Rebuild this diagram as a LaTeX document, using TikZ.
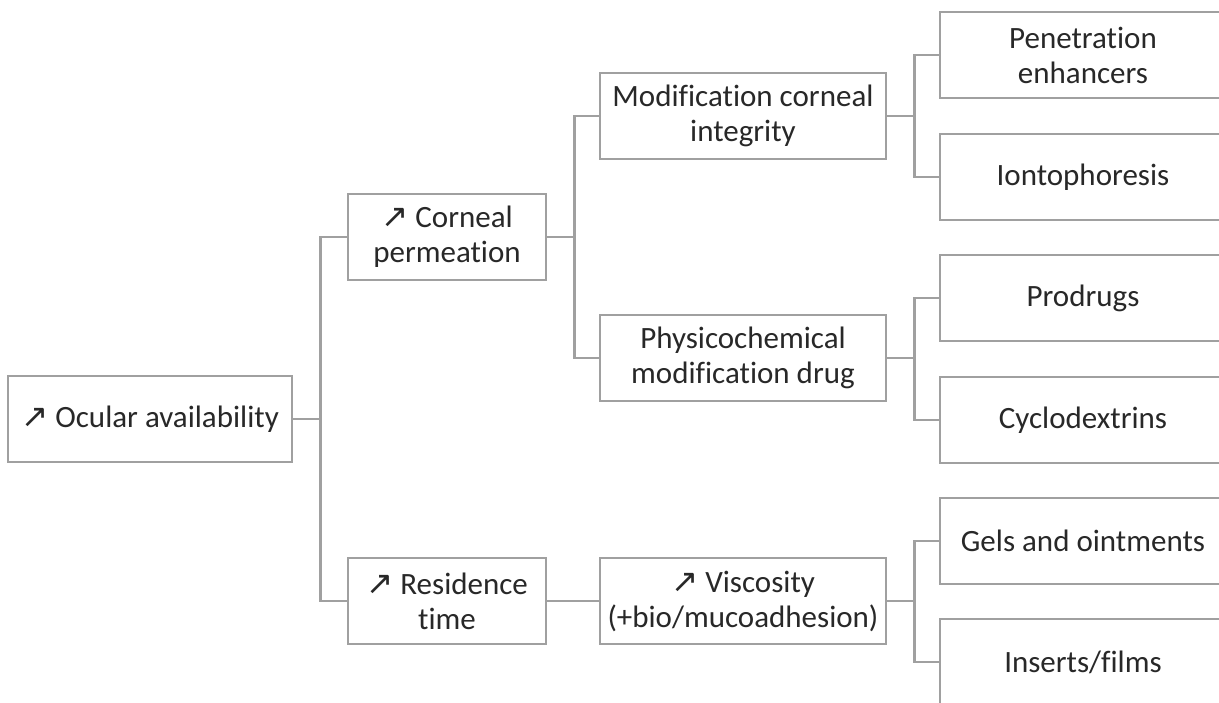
\documentclass[tikz,border=0pt]{standalone}
\usepackage{fontspec}
\setmainfont[Ligatures=NoCommon]{Carlito}
\newfontfamily\symfont{DejaVu Sans}
\usetikzlibrary{positioning}
\definecolor{linegray}{RGB}{160,160,160}
\definecolor{textdark}{RGB}{40,40,40}
\newcommand{\incr}{{\symfont\scalebox{1.05}{↗}}\ }

\begin{document}
\begin{tikzpicture}[
        x=1pt, y=-1pt,
        box/.style={rectangle, draw=linegray, line width=2.8pt, fill=white, minimum height=86pt, align=center, text=textdark, font=\fontsize{31}{35}\selectfont, inner sep=0pt},
        rootbox/.style={box, minimum width=284pt},
        midbox/.style={box, minimum width=198pt},
        subbox/.style={box, minimum width=286pt},
        leafbox/.style={box, minimum width=286pt},
        link/.style={draw=linegray, line width=2.8pt}
    ]
        \useasboundingbox (0,0) rectangle (1219,702);
        \clip (0,0) rectangle (1219,702);

        \node[rootbox] (ocular) at (150,419) {\incr Ocular availability};

        \node[midbox] (corneal) at (447,237) {\incr Corneal\\permeation};
        \node[midbox] (residence) at (447,601) {\incr Residence\\time};

        \node[subbox] (integrity) at (743,116) {Modification corneal\\integrity};
        \node[subbox] (physchem) at (743,358) {Physicochemical\\modification drug};
        \node[subbox] (viscosity) at (743,601) {\incr Viscosity\\(+bio/mucoadhesion)};

        \node[leafbox] (enhancers) at (1083,55) {Penetration\\enhancers};
        \node[leafbox] (ionto) at (1083,177) {Iontophoresis};
        \node[leafbox] (prodrugs) at (1083,298) {Prodrugs};
        \node[leafbox] (cyclo) at (1083,420) {Cyclodextrins};
        \node[leafbox] (gels) at (1083,541) {Gels and ointments};
        \node[leafbox] (inserts) at (1083,662) {Inserts/films};

        % elbow connectors
        \draw[link] (ocular.east) -- ++(27,0) |- (corneal.west);
        \draw[link] (ocular.east) -- ++(27,0) |- (residence.west);
        \draw[link] (corneal.east) -- ++(27,0) |- (integrity.west);
        \draw[link] (corneal.east) -- ++(27,0) |- (physchem.west);
        \draw[link] (residence.east) -- (viscosity.west);
        \draw[link] (integrity.east) -- ++(27,0) |- (enhancers.west);
        \draw[link] (integrity.east) -- ++(27,0) |- (ionto.west);
        \draw[link] (physchem.east) -- ++(27,0) |- (prodrugs.west);
        \draw[link] (physchem.east) -- ++(27,0) |- (cyclo.west);
        \draw[link] (viscosity.east) -- ++(27,0) |- (gels.west);
        \draw[link] (viscosity.east) -- ++(27,0) |- (inserts.west);
    \end{tikzpicture}
\end{document}
